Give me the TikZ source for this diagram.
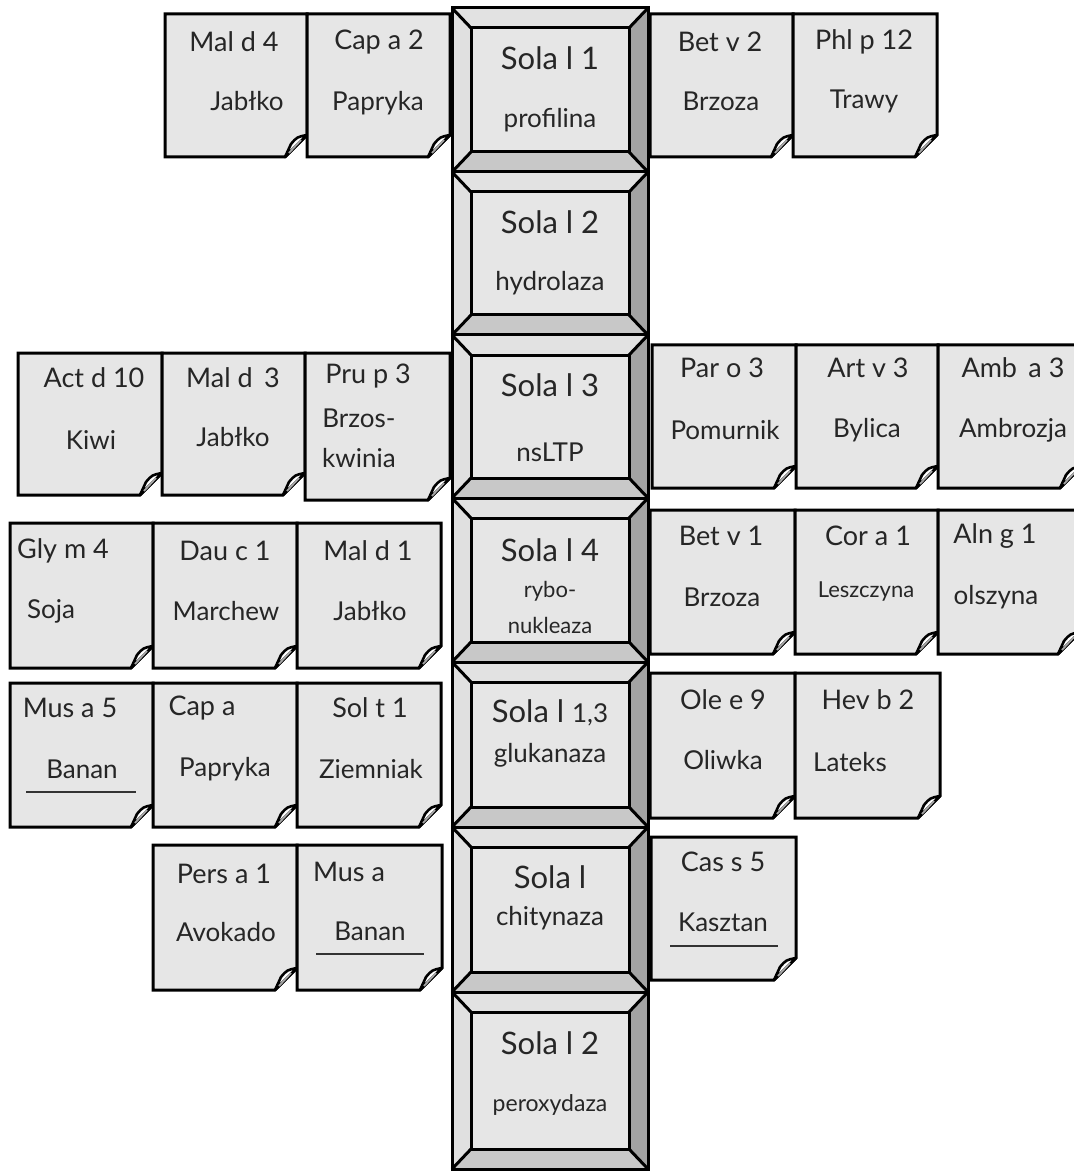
\documentclass[tikz,border=0pt]{standalone}
\usepackage{fontspec}
\setmainfont{Lato}
\usepackage{tikz}

\definecolor{facegray}{HTML}{E6E6E6}
\definecolor{topgray}{HTML}{E2E2E2}
\definecolor{leftgray}{HTML}{E0E0E0}
\definecolor{bottomgray}{HTML}{C8C8C8}
\definecolor{rightgray}{HTML}{A3A3A3}

\begin{document}
\begin{tikzpicture}[
    x=0.5pt,y=-0.5pt,
    notebox/.style={draw=black,fill=facegray,line width=1.5pt,line join=miter},
    fold/.style={draw=black,fill=white,line width=1.3pt,line join=round},
    foldline/.style={draw=gray!70,line width=0.9pt},
    bevelline/.style={draw=black,line width=1.5pt},
    underline/.style={draw=black!80,line width=0.6pt},
    code/.style={font=\fontsize{13.5}{15}\selectfont,inner sep=0pt,text=black!85},
    plant/.style={font=\fontsize{13}{15}\selectfont,inner sep=0pt,text=black!85},
    sola/.style={font=\fontsize{15.5}{18}\selectfont,inner sep=0pt,text=black!85},
    enzyme/.style={font=\fontsize{13}{15}\selectfont,inner sep=0pt,text=black!85},
    smalltext/.style={font=\fontsize{11}{12}\selectfont,inner sep=0pt,text=black!85}
]
\useasboundingbox (0,0) rectangle (1074,1171);
\clip (0,0) rectangle (1074,1171);

% central column of bevelled boxes
\foreach \ya/\yb in {8/172,172/335,335/498,498/662,662/827,827/992,992/1169}{
  \fill[topgray] (452,\ya) -- (648,\ya) -- (629,\ya+20) -- (471,\ya+20) -- cycle;
  \fill[bottomgray] (452,\yb) -- (648,\yb) -- (629,\yb-20) -- (471,\yb-20) -- cycle;
  \fill[leftgray] (452,\ya) -- (471,\ya+20) -- (471,\yb-20) -- (452,\yb) -- cycle;
  \fill[rightgray] (648,\ya) -- (629,\ya+20) -- (629,\yb-20) -- (648,\yb) -- cycle;
  \filldraw[bevelline,fill=facegray] (471,\ya+20) rectangle (629,\yb-20);
  \draw[bevelline] (452,\ya) -- (471,\ya+20) (648,\ya) -- (629,\ya+20)
                   (452,\yb) -- (471,\yb-20) (648,\yb) -- (629,\yb-20);
  \draw[bevelline] (452,\ya) rectangle (648,\yb);
}

% allergen notes with folded corner
\foreach \xa/\ya/\xb/\yb in {165/14/307/157,307/14/450/157,650/14/793/157,793/14/937/157,
    18/353/162/495,162/353/305/495,305/353/450/500,
    652/345/796/488,796/345/938/488,938/345/1082/488,
    10/523/153/668,153/523/297/668,297/523/441/668,
    650/510/795/654,795/510/938/654,938/510/1080/654,
    10/683/153/827,153/683/297/827,297/683/441/827,
    650/673/795/818,795/673/940/818,
    153/845/297/990,297/845/442/990,651/837/796/980}{
  \filldraw[notebox] (\xa,\ya) -- (\xb,\ya) -- (\xb,\yb-22) -- (\xb-22,\yb) -- (\xa,\yb) -- cycle;
  \filldraw[fold] (\xb-22,\yb) -- (\xb-16,\yb-13) .. controls (\xb-10,\yb-20) .. (\xb,\yb-22) -- cycle;
  \draw[foldline] (\xb-18,\yb-4) -- (\xb-6,\yb-17);
}

% underlined names
\draw[underline] (26,792) -- (136,792);
\draw[underline] (316,954) -- (424,954);
\draw[underline] (670,946) -- (778,946);

% central labels
\node[sola] (sola1) at (550,58) {Sola l 1};
\node[enzyme] (profilina) at (550,120) {profilina};
\node[sola] (sola2) at (550,222) {Sola l 2};
\node[enzyme] (hydrolaza) at (550,283) {hydrolaza};
\node[sola] (sola3) at (550,385) {Sola l 3};
\node[enzyme] (nsltp) at (550,452) {nsLTP};
\node[sola] (sola4) at (550,550) {Sola l 4};
\node[smalltext] (rybo) at (550,591) {rybo-};
\node[smalltext] (nukleaza) at (550,625) {nukleaza};
\node[sola] (sola13) at (550,713) {Sola l {\fontsize{13}{15}\selectfont 1,3}};
\node[enzyme] (glukanaza) at (550,755) {glukanaza};
\node[sola] (solachit) at (550,877) {Sola l};
\node[enzyme] (chitynaza) at (550,918) {chitynaza};
\node[sola] (solaperox) at (550,1043) {Sola l 2};
\node[smalltext,font=\fontsize{11.5}{13}\selectfont] (peroxydaza) at (550,1105) {peroxydaza};

% top row
\node[code] (mald4) at (234,42) {Mal d 4};
\node[plant] (mald4pl) at (247,101) {Jabłko};
\node[code] (capa2) at (379,42) {Cap a 2};
\node[plant] (capa2pl) at (378,103) {Papryka};
\node[code] (betv2) at (720,42) {Bet v 2};
\node[plant] (betv2pl) at (721,101) {Brzoza};
\node[code] (phlp12) at (864,42) {Phl p 12};
\node[plant] (phlp12pl) at (864,101) {Trawy};

% nsLTP row
\node[code] (actd10) at (94,378) {Act d 10};
\node[plant] (actd10pl) at (91,440) {Kiwi};
\node[code] (mald3) at (233,378) {Mal d \,3};
\node[plant] (mald3pl) at (233,437) {Jabłko};
\node[code] (prup3) at (368,376) {Pru p 3};
\node[plant] (prup3pla) at (359,418) {Brzos-};
\node[plant] (prup3plb) at (359,458) {kwinia};
\node[code] (paro3) at (722,368) {Par o 3};
\node[plant] (paro3pl) at (725,430) {Pomurnik};
\node[code] (artv3) at (868,368) {Art v 3};
\node[plant] (artv3pl) at (867,430) {Bylica};
\node[code] (amba3) at (1013,368) {Amb \,a 3};
\node[plant] (amba3pl) at (1013,430) {Ambrozja};

% PR-10 row
\node[code] (glym4) at (63,551) {Gly m 4};
\node[plant] (glym4pl) at (51,611) {Soja};
\node[code] (dauc1) at (225,551) {Dau c 1};
\node[plant] (dauc1pl) at (226,611) {Marchew};
\node[code] (mald1) at (368,551) {Mal d 1};
\node[plant] (mald1pl) at (370,611) {Jabłko};
\node[code] (betv1) at (721,536) {Bet v 1};
\node[plant] (betv1pl) at (722,597) {Brzoza};
\node[code] (cora1) at (868,536) {Cor a 1};
\node[smalltext] (cora1pl) at (866,592) {Leszczyna};
\node[code] (alng1) at (995,536) {Aln g 1};
\node[plant] (alng1pl) at (996,597) {olszyna};

% glucanase row
\node[code] (musa5) at (70,708) {Mus a 5};
\node[plant] (musa5pl) at (82,769) {Banan};
\node[code] (capa) at (202,708) {Cap a};
\node[plant] (capapl) at (225,769) {Papryka};
\node[code] (solt1) at (370,708) {Sol t 1};
\node[plant] (solt1pl) at (371,769) {Ziemniak};
\node[code] (olee9) at (723,700) {Ole e 9};
\node[plant] (olee9pl) at (723,760) {Oliwka};
\node[code] (hevb2) at (868,700) {Hev b 2};
\node[plant] (hevb2pl) at (850,762) {Lateks};

% chitinase row
\node[code] (persa1) at (224,874) {Pers a 1};
\node[plant] (persa1pl) at (226,932) {Avokado};
\node[code] (musa) at (349,872) {Mus a};
\node[plant] (musapl) at (370,931) {Banan};
\node[code] (cass5) at (723,862) {Cas s 5};
\node[plant] (cass5pl) at (723,922) {Kasztan};
\end{tikzpicture}
\end{document}
